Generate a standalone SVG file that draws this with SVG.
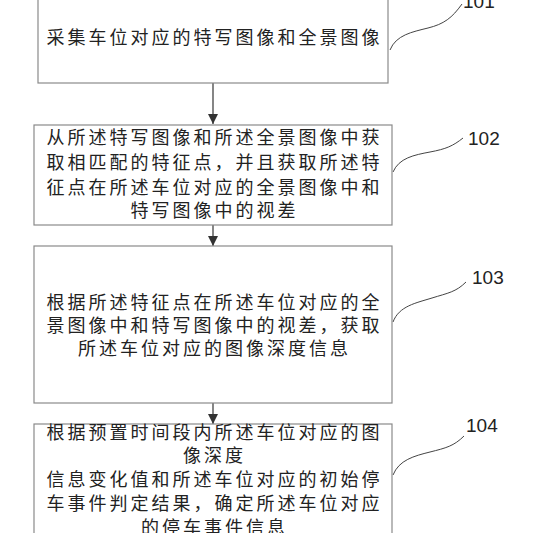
<svg xmlns="http://www.w3.org/2000/svg" width="533" height="533" viewBox="0 0 533 533">
<style>
.box{fill:#fff;stroke:#8a8a8a;stroke-width:1.2}
.t{font-family:"Noto Sans CJK SC","Noto Sans CJK JP",sans-serif;font-size:18px;letter-spacing:3px;fill:#222;text-anchor:middle}
.lbl{font-family:"Liberation Sans",Arial,sans-serif;font-size:19px;fill:#222}
.lead{fill:none;stroke:#444;stroke-width:1}
.arr{stroke:#444;stroke-width:1.3;fill:none}
</style>
<defs>
<marker id="ah" viewBox="0 0 10 10" refX="10" refY="5" markerWidth="10" markerHeight="10" markerUnits="userSpaceOnUse" orient="auto">
<path d="M0,0 L10,5 L0,10 z" fill="#333"/>
</marker>
</defs>
<rect width="533" height="533" fill="#fff"/>
<g id="connectors">
<line class="arr" x1="213" y1="83" x2="213" y2="124" marker-end="url(#ah)"/>
<line class="arr" x1="213" y1="225" x2="213" y2="246" marker-end="url(#ah)"/>
<line class="arr" x1="213" y1="403" x2="213" y2="424" marker-end="url(#ah)"/>
<path class="lead" d="M390,50 C396,35 412,32 428,28 S452,18 462,4"/>
<path class="lead" d="M393,172 C399,158 414,155 430,152 S453,146 463,138"/>
<path class="lead" d="M393,322 C399,306 416,303 432,298 S456,292 466,282"/>
<path class="lead" d="M393,475 C399,460 414,456 430,452 S454,446 464,436"/>
</g>
<g id="n101">
<rect class="box" x="38" y="-10" width="350" height="93"/>
<text class="t" x="214.5" y="44">采集车位对应的特写图像和全景图像</text>
<text class="lbl" x="463" y="8">101</text>
</g>
<g id="n102">
<rect class="box" x="34" y="125" width="358" height="100"/>
<text class="t" x="214.5" y="144">从所述特写图像和所述全景图像中获</text>
<text class="t" x="214.5" y="169">取相匹配的特征点，并且获取所述特</text>
<text class="t" x="214.5" y="194">征点在所述车位对应的全景图像中和</text>
<text class="t" x="214.5" y="217">特写图像中的视差</text>
<text class="lbl" x="468" y="145">102</text>
</g>
<g id="n103">
<rect class="box" x="34" y="246" width="358" height="157"/>
<text class="t" x="214.5" y="309">根据所述特征点在所述车位对应的全</text>
<text class="t" x="214.5" y="332">景图像中和特写图像中的视差，获取</text>
<text class="t" x="214.5" y="355">所述车位对应的图像深度信息</text>
<text class="lbl" x="472" y="284">103</text>
</g>
<g id="n104">
<rect class="box" x="34" y="424" width="358" height="150"/>
<text class="t" x="214.5" y="439">根据预置时间段内所述车位对应的图</text>
<text class="t" x="214.5" y="462">像深度</text>
<text class="t" x="214.5" y="486">信息变化值和所述车位对应的初始停</text>
<text class="t" x="214.5" y="510">车事件判定结果，确定所述车位对应</text>
<text class="t" x="214.5" y="534">的停车事件信息</text>
<text class="lbl" x="466" y="432">104</text>
</g>
</svg>
